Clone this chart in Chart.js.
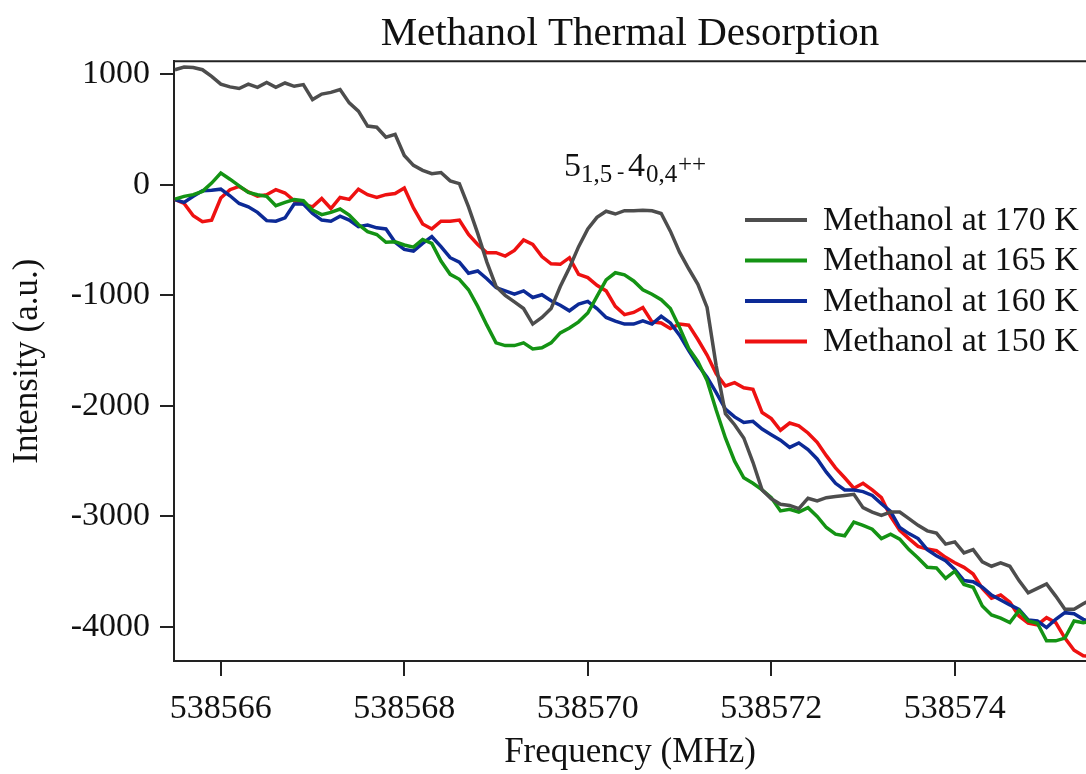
<!DOCTYPE html>
<html>
<head>
<meta charset="utf-8">
<title>Methanol Thermal Desorption</title>
<script src="https://cdn.jsdelivr.net/npm/chart.js@4.4.0/dist/chart.umd.min.js"></script>
<style>
  html, body { margin: 0; padding: 0; background: #fff; }
</style>
</head>
<body>
<canvas id="desorptionChart" width="1086" height="774"></canvas>
<script>
// sampling grid of the spectra (MHz)
const FREQ_START = 538565.5;
const FREQ_STEP = 0.1;

const SERIES_LABELS = [
  "Methanol at 170 K",
  "Methanol at 165 K",
  "Methanol at 160 K",
  "Methanol at 150 K",
];

const methanol170 = [
  1040, 1065, 1060, 1040, 980, 910, 885, 870, 910, 880,
  925, 880, 920, 890, 905, 770, 820, 835, 860, 740,
  665, 530, 520, 430, 455, 265, 175, 130, 100, 110,
  35, 10, -200, -440, -700, -920, -1000, -1060, -1120, -1260,
  -1200, -1120, -920, -750, -560, -400, -295, -240, -265, -235,
  -235, -230, -235, -260, -420, -610, -760, -900, -1110, -1640,
  -2070, -2170, -2290, -2510, -2760, -2840, -2890, -2900, -2930, -2835,
  -2860, -2830, -2820, -2810, -2800, -2920, -2960, -2990, -2960, -2960,
  -3020, -3080, -3130, -3150, -3250, -3230, -3330, -3300, -3410, -3450,
  -3420, -3450, -3580, -3690, -3650, -3610, -3720, -3840, -3840, -3790,
  -3740,
];

const methanol165 = [
  -130, -105, -90, -60, 15, 105, 50, -10, -70, -90,
  -105, -190, -160, -135, -145, -230, -270, -250, -220, -275,
  -360, -425, -450, -520, -515, -545, -565, -495, -530, -690,
  -810, -855, -950, -1100, -1270, -1430, -1455, -1455, -1430, -1485,
  -1475, -1430, -1340, -1295, -1240, -1160, -1010, -860, -796, -815,
  -870, -950, -990, -1040, -1120, -1290, -1480, -1600, -1770, -2040,
  -2290, -2500, -2650, -2700, -2760, -2830, -2950, -2935, -2960, -2920,
  -3000, -3100, -3160, -3175, -3050, -3080, -3115, -3200, -3160, -3205,
  -3300, -3375, -3460, -3465, -3560, -3495, -3615, -3640, -3810, -3890,
  -3920, -3960, -3850, -3945, -3965, -4125, -4125, -4100, -3945, -3960,
  -3950,
];

const methanol160 = [
  -135, -160, -105, -55, -50, -40, -100, -170, -200, -250,
  -325, -330, -300, -175, -175, -260, -320, -330, -285, -320,
  -380, -365, -390, -400, -520, -585, -600, -530, -470, -560,
  -660, -700, -800, -780, -850, -930, -960, -990, -960, -1020,
  -995, -1050, -1090, -1140, -1080, -1055, -1120, -1200, -1233, -1260,
  -1260, -1230, -1260, -1190, -1250, -1360, -1500, -1630, -1740, -1880,
  -2030, -2100, -2150, -2140, -2210, -2260, -2310, -2375, -2335, -2395,
  -2480, -2600, -2700, -2760, -2760, -2775, -2810, -2885, -2955, -3100,
  -3155, -3200, -3300, -3355, -3400, -3480, -3580, -3590, -3640, -3710,
  -3755, -3800, -3840, -3935, -3945, -4005, -3930, -3870, -3880, -3930,
  -3960,
];

const methanol150 = [
  -133, -170, -280, -335, -320, -120, -45, -15, -65, -103,
  -90, -45, -75, -145, -175, -200, -125, -215, -115, -133,
  -40, -90, -115, -90, -80, -30, -210, -355, -400, -330,
  -330, -320, -450, -540, -615, -615, -645, -595, -500, -540,
  -650, -715, -720, -660, -810, -840, -910, -960, -1100, -1175,
  -1155, -1110, -1240, -1250, -1300, -1260, -1270, -1400, -1540, -1710,
  -1820, -1790, -1836, -1850, -2060, -2115, -2220, -2155, -2180, -2245,
  -2330, -2450, -2560, -2650, -2745, -2700, -2760, -2830, -3000, -3125,
  -3200, -3270, -3295, -3310, -3370, -3418, -3460, -3520, -3650, -3740,
  -3710, -3775, -3900, -3965, -3980, -3915, -3960, -4100, -4210, -4260,
  -4265,
];

const X_TICKS = [538566, 538568, 538570, 538572, 538574];
const Y_TICKS = [-4000, -3000, -2000, -1000, 0, 1000];

const COLORS = ["#4d4d4d", "#149314", "#0c2a96", "#ee1111"];
const FONT = '"Liberation Serif", "Times New Roman", serif';
const AXIS_COLOR = "#222";

function toPoints(values) {
  return values.map((v, i) => ({ x: FREQ_START + i * FREQ_STEP, y: v }));
}

// top edge of the frame (the scales only draw left and bottom)
const framePlugin = {
  id: "frameTop",
  afterDraw(chart) {
    const { ctx, chartArea } = chart;
    ctx.save();
    ctx.strokeStyle = AXIS_COLOR;
    ctx.lineWidth = 2;
    ctx.beginPath();
    ctx.moveTo(chartArea.left - 1, chartArea.top);
    ctx.lineTo(chartArea.right, chartArea.top);
    ctx.stroke();
    ctx.restore();
  },
};

// legend sits inside the plot, right side
const insideLegend = {
  id: "insideLegend",
  afterDatasetsDraw(chart) {
    const ctx = chart.ctx;
    ctx.save();
    ctx.font = `34px ${FONT}`;
    ctx.textBaseline = "middle";
    ctx.textAlign = "left";
    chart.data.datasets.forEach((ds, i) => {
      const y = 220 + i * 40.5;
      ctx.strokeStyle = ds.borderColor;
      ctx.lineWidth = 4;
      ctx.beginPath();
      ctx.moveTo(745, y);
      ctx.lineTo(807, y);
      ctx.stroke();
      ctx.fillStyle = "#111";
      ctx.fillText(ds.label, 823, y + 1);
    });
    ctx.restore();
  },
};

// transition label 5(1,5) - 4(0,4)++
const transitionLabel = {
  id: "transitionLabel",
  afterDatasetsDraw(chart) {
    const ctx = chart.ctx;
    ctx.save();
    ctx.fillStyle = "#111";
    ctx.textBaseline = "alphabetic";
    ctx.textAlign = "left";
    const parts = [
      { t: "5", size: 34, x: 564, y: 176 },
      { t: "1,5", size: 25, x: 581, y: 182 },
      { t: "-", size: 22, x: 617, y: 178 },
      { t: "4", size: 34, x: 628, y: 176 },
      { t: "0,4", size: 25, x: 646, y: 182 },
      { t: "++", size: 25, x: 678, y: 172 },
    ];
    parts.forEach((p) => {
      ctx.font = `${p.size}px ${FONT}`;
      ctx.fillText(p.t, p.x, p.y);
    });
    ctx.restore();
  },
};

const ctx = document.getElementById("desorptionChart").getContext("2d");

new Chart(ctx, {
  type: "line",
  data: {
    datasets: [methanol170, methanol165, methanol160, methanol150].map(
      (vals, i) => ({
        label: SERIES_LABELS[i],
        data: toPoints(vals),
        borderColor: COLORS[i],
        backgroundColor: COLORS[i],
        borderWidth: 3.5,
        pointRadius: 0,
        tension: 0,
        fill: false,
      })
    ),
  },
  options: {
    responsive: false,
    animation: false,
    devicePixelRatio: 1,
    layout: { padding: { left: 0, right: 0, top: 0, bottom: 0 } },
    plugins: {
      legend: { display: false },
      tooltip: { enabled: false },
      title: {
        display: true,
        text: "Methanol Thermal Desorption",
        fullSize: false,
        color: "#111",
        font: { family: FONT, size: 41, weight: "normal" },
        padding: { top: 10, bottom: 2 },
      },
    },
    scales: {
      x: {
        type: "linear",
        min: 538565.49,
        max: 538575.43,
        afterBuildTicks: (scale) => {
          scale.ticks = X_TICKS.map((v) => ({ value: v }));
        },
        afterFit: (scale) => {
          scale.height = 113;
        },
        grid: {
          display: true,
          drawOnChartArea: false,
          drawTicks: true,
          tickLength: 15,
          color: AXIS_COLOR,
          lineWidth: 2,
        },
        border: { display: true, color: AXIS_COLOR, width: 2 },
        ticks: {
          color: "#111",
          padding: 13,
          maxRotation: 0,
          autoSkip: false,
          font: { family: FONT, size: 34 },
          callback: (v) => String(v),
        },
        title: {
          display: true,
          text: "Frequency (MHz)",
          color: "#111",
          font: { family: FONT, size: 35 },
          padding: { top: 0, bottom: 0 },
        },
      },
      y: {
        min: -4307,
        max: 1117,
        afterBuildTicks: (scale) => {
          scale.ticks = Y_TICKS.map((v) => ({ value: v }));
        },
        afterFit: (scale) => {
          scale.width = 174;
        },
        grid: {
          display: true,
          drawOnChartArea: false,
          drawTicks: true,
          tickLength: 14,
          color: AXIS_COLOR,
          lineWidth: 2,
        },
        border: { display: true, color: AXIS_COLOR, width: 2 },
        ticks: {
          color: "#111",
          padding: 10,
          autoSkip: false,
          font: { family: FONT, size: 34 },
          callback: (v) => String(v),
        },
        title: {
          display: true,
          text: "Intensity (a.u.)",
          color: "#111",
          font: { family: FONT, size: 35 },
          padding: { top: 7, bottom: 0 },
        },
      },
    },
  },
  plugins: [framePlugin, insideLegend, transitionLabel],
});
</script>
</body>
</html>
